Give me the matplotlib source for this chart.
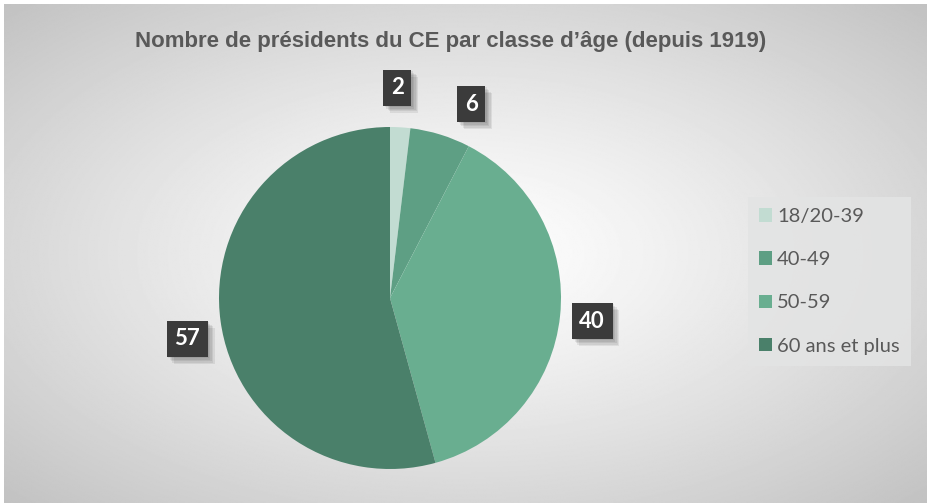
import numpy as np
import matplotlib

matplotlib.use("Agg")

import matplotlib.pyplot as plt
from matplotlib.patches import Patch
import matplotlib.patheffects as pe

# données
categories = ["18/20-39", "40-49", "50-59", "60 ans et plus"]
values = [2, 6, 40, 57]

SLICE_COLORS = ["#C2DCD2", "#5E9F84", "#69AE90", "#4A806A"]
TEXT_GREY = "#595959"
BOX_DARK = "#3B3B3B"
# décalage angulaire des étiquettes (placement "au mieux" d'Excel)
LABEL_NUDGE_DEG = [1.4, -5.6, -0.5, 3.7]
LABEL_DIST = [1.23, 1.23, 1.19, 1.21]

W, H = 927, 503
fig = plt.figure(figsize=(W / 100, H / 100), dpi=100, facecolor="white")

# fond dégradé radial
bg = fig.add_axes([4 / W, 0, 1 - 4 / W, 1 - 4 / H], zorder=-1)
yy, xx = np.mgrid[-1:1:400j, -1:1:700j]
dist = np.sqrt(xx ** 2 + yy ** 2) / np.sqrt(2)
shade = 1.0 - 0.24 * dist ** 1.2
bg.imshow(shade, cmap="gray", vmin=0, vmax=1, aspect="auto", extent=[0, 1, 0, 1])
bg.set_axis_off()

# camembert
cx, cy, r = 390, H - 298, 171
lim = 1.3
side = 2 * r * lim
ax = fig.add_axes([(cx - side / 2) / W, (cy - side / 2) / H, side / W, side / H])
total = sum(values)
wedges, _, autotexts = ax.pie(
    values,
    colors=SLICE_COLORS,
    startangle=90,
    counterclock=False,
    autopct=lambda p: f"{round(p * total / 100):d}",
    pctdistance=1.22,
    wedgeprops={"linewidth": 0},
)
ax.set_xlim(-lim, lim)
ax.set_ylim(-lim, lim)
ax.set_aspect("equal")
ax.set_axis_off()

shadow = [
    pe.withSimplePatchShadow(offset=(k, -k), shadow_rgbFace="black", alpha=0.07)
    for k in (1, 2, 3, 4, 5)
]
for w, t, nudge, d in zip(wedges, autotexts, LABEL_NUDGE_DEG, LABEL_DIST):
    ang = np.deg2rad((w.theta1 + w.theta2) / 2 + nudge)
    t.set_position((d * np.cos(ang), d * np.sin(ang)))
    t.set_family("Lato")
    t.set_fontweight("bold")
    t.set_fontsize(16)
    t.set_color("white")
    t.set_clip_on(False)
    t.set_bbox({"boxstyle": "square,pad=0.34", "facecolor": BOX_DARK, "edgecolor": "none"})
    t.get_bbox_patch().set_path_effects(shadow + [pe.Normal()])

fig.text(
    451 / W,
    1 - 42 / H,
    "Nombre de présidents du CE par classe d’âge (depuis 1919)",
    ha="center",
    va="center",
    fontsize=16,
    fontweight="bold",
    color=TEXT_GREY,
    family="Liberation Sans",
)

handles = [Patch(facecolor=c, edgecolor="none") for c in SLICE_COLORS]
leg = fig.legend(
    handles,
    categories,
    loc="upper left",
    bbox_to_anchor=(748 / W, 1 - 197 / H),
    frameon=True,
    fancybox=False,
    facecolor="#E3E4E4",
    edgecolor="none",
    framealpha=0.85,
    prop={"family": "Lato", "size": 14.5},
    labelcolor=TEXT_GREY,
    handlelength=0.65,
    handleheight=0.65,
    handletextpad=0.25,
    labelspacing=1.3,
    borderpad=0.55,
    borderaxespad=0,
)

fig.savefig("out.png", dpi=100, facecolor="white")
